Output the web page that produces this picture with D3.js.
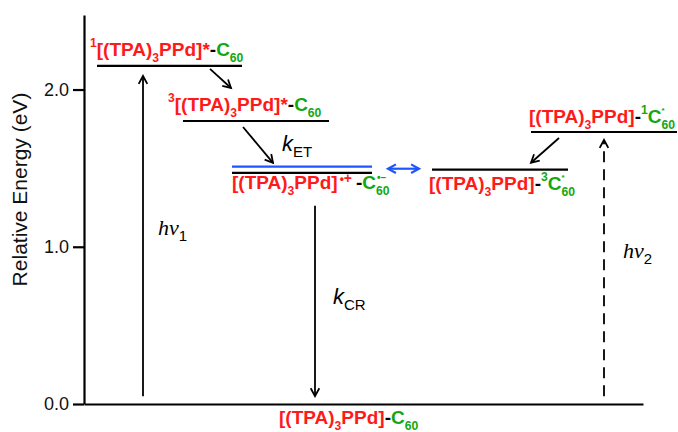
<!DOCTYPE html>
<html><head><meta charset="utf-8">
<script src="https://cdn.jsdelivr.net/npm/d3@7"></script>
<style>body{margin:0;background:#fff}</style>
</head><body>
<svg id="chart" width="678" height="432"></svg>
<script>
// Energy levels of the (TPA)3PPd–C60 dyad (eV)
const stateIds  = ["S1", "T1", "CS", "PPdT", "C60T", "C60S", "GS"];
const energies  = [2.15, 1.80, 1.47, 1.51, 1.49, 1.73, 0.0];
const yTicks      = [0.0, 1.0, 2.0];
const yTickLabels = ["0.0", "1.0", "2.0"];
const yTitle = "Relative Energy (eV)";

const E = Object.fromEntries(stateIds.map((s, i) => [s, energies[i]]));

const RED = "#ff1a1a", GREEN = "#12a812", BLUE = "#1f55ff", BLACK = "#000";
const SANS = "'Liberation Sans', Arial, sans-serif";
const SERIF = "'Liberation Serif', 'Times New Roman', serif";

const svg = d3.select("#chart");
const y = d3.scaleLinear().domain([0, 2.474]).range([404, 15]);
const x = d3.scaleLinear().domain([0, 1]).range([84, 643]);

// ---- axes ----
const gy = svg.append("g").attr("transform", "translate(84,0)")
  .call(d3.axisLeft(y).tickValues(yTicks).tickFormat((d, i) => yTickLabels[i])
        .tickSize(11).tickSizeOuter(0).tickPadding(4));
gy.select(".domain").attr("stroke", BLACK).attr("stroke-width", 2.2);
gy.selectAll(".tick line").attr("stroke", BLACK).attr("stroke-width", 2.2);
gy.selectAll(".tick text").attr("font-family", SANS).attr("font-size", 18).attr("fill", "#111");

const gx = svg.append("g").attr("transform", `translate(0,${y(0)})`)
  .call(d3.axisBottom(x).ticks(0).tickSizeOuter(0));
gx.select(".domain").attr("stroke", BLACK).attr("stroke-width", 2.2);

svg.append("text")
  .attr("transform", `translate(27,${(y(0) + y(2.474)) / 2 - 20}) rotate(-90)`)
  .attr("text-anchor", "middle")
  .attr("font-family", SANS).attr("font-size", 21).attr("fill", "#111")
  .text(yTitle);

// ---- level lines (horizontal extents in px) ----
const spans = {
  S1: [97, 242], T1: [183, 329], CS: [232, 372], PPdT: [232, 372],
  C60T: [432, 568], C60S: [531, 677]
};
const levelColor = { PPdT: BLUE };
Object.keys(spans).forEach(id => {
  svg.append("line")
    .attr("x1", spans[id][0]).attr("x2", spans[id][1])
    .attr("y1", y(E[id])).attr("y2", y(E[id]))
    .attr("stroke", levelColor[id] || BLACK).attr("stroke-width", 2.2);
});

// ---- arrows ----
function head(x1, y1, x2, y2, color, w) {
  const a = Math.atan2(y2 - y1, x2 - x1), L = 9, t = 0.5;
  svg.append("path")
    .attr("d", `M${x2 - L * Math.cos(a - t)},${y2 - L * Math.sin(a - t)}L${x2},${y2}L${x2 - L * Math.cos(a + t)},${y2 - L * Math.sin(a + t)}`)
    .attr("fill", "none").attr("stroke", color).attr("stroke-width", w)
    .attr("stroke-linejoin", "miter");
}
function arrow(x1, y1, x2, y2, o = {}) {
  const color = o.color || BLACK, w = o.width || 1.8;
  svg.append("line").attr("x1", x1).attr("y1", y1).attr("x2", x2).attr("y2", y2)
    .attr("stroke", color).attr("stroke-width", w)
    .attr("stroke-dasharray", o.dash || null);
  head(x1, y1, x2, y2, color, w);
  if (o.both) head(x2, y2, x1, y1, color, w);
}
// excitations
arrow(143, y(0.05), 143, y(E.S1) + 10);
arrow(604, y(0.05), 604, y(E.C60S) + 8, { dash: "11,7" });
// charge recombination
arrow(315, y(E.CS) + 33, 315, y(0.05));
// intersystem crossing / electron transfer
arrow(210, y(E.S1) + 3, 231, y(E.T1) - 33);
arrow(243, y(E.T1) + 6, 273, y(E.CS) - 10);
arrow(559, y(E.C60S) + 6, 531, y(E.C60T) - 7);
// equilibrium between CS and 3C60*
arrow(388, y(E.C60T) - 1, 419, y(E.C60T) - 1, { color: BLUE, width: 2.2, both: true });

// ---- rich text labels ----
function rich(x0, base, segs, size, opts = {}) {
  let cx = x0;
  segs.forEach(s => {
    const small = s.k === "sub" || s.k === "sup";
    const fs = s.fs || (small ? size * 0.64 : size);
    const dy = s.k === "sub" ? size * 0.3 : s.k === "sup" ? -size * 0.45 : 0;
    const t = svg.append("text")
      .attr("x", cx + (s.dx || 0)).attr("y", base + dy + (s.dy || 0))
      .attr("font-family", s.font || opts.font || SANS)
      .attr("font-size", fs)
      .attr("font-weight", opts.weight || "bold")
      .attr("font-style", s.italic ? "italic" : "normal")
      .attr("fill", s.c || BLACK)
      .text(s.t);
    if (!s.stack) cx += t.node().getComputedTextLength() + (s.dx || 0);
  });
}
const FS = 19;
const core = [
  { t: "[(TPA)", c: RED }, { t: "3", c: RED, k: "sub" }, { t: "PPd]", c: RED }
];
// 1[(TPA)3PPd]*-C60
rich(90, 56, [{ t: "1", c: RED, k: "sup" }, ...core, { t: "*", c: RED },
  { t: "-", c: BLACK }, { t: "C", c: GREEN }, { t: "60", c: GREEN, k: "sub" }], FS);
// 3[(TPA)3PPd]*-C60
rich(168, 111, [{ t: "3", c: RED, k: "sup" }, ...core, { t: "*", c: RED },
  { t: "-", c: BLACK }, { t: "C", c: GREEN }, { t: "60", c: GREEN, k: "sub" }], FS);
// [(TPA)3PPd]•+-C60•−
rich(232, 189, [...core, { t: "•", c: RED, k: "sup", dx: 2, fs: 12, dy: 3 }, { t: "+", c: RED, k: "sup", fs: 14, dy: 3 },
  { t: "-", c: BLACK, dx: 4 },
  { t: "C", c: GREEN }, { t: "•–", c: GREEN, k: "sup", stack: true, fs: 10, dx: 1, dy: 1 },
  { t: "60", c: GREEN, k: "sub" }], FS);
// [(TPA)3PPd]-3C*60
rich(429, 190, [...core, { t: "-", c: BLACK }, { t: "3", c: GREEN, k: "sup" },
  { t: "C", c: GREEN }, { t: "*", c: GREEN, k: "sup", stack: true, fs: 8, dy: -1 },
  { t: "60", c: GREEN, k: "sub" }], FS);
// [(TPA)3PPd]-1C*60
rich(529, 123, [...core, { t: "-", c: BLACK }, { t: "1", c: GREEN, k: "sup" },
  { t: "C", c: GREEN }, { t: "*", c: GREEN, k: "sup", stack: true, fs: 8, dy: -1 },
  { t: "60", c: GREEN, k: "sub" }], FS);
// ground state
rich(279, 424, [...core, { t: "-", c: BLACK }, { t: "C", c: GREEN },
  { t: "60", c: GREEN, k: "sub" }], FS);

// rate constants and photon labels
rich(282, 151, [{ t: "k", italic: true }, { t: "ET", k: "sub", fs: 15, dy: -1 }], 22, { weight: "normal" });
rich(333, 304, [{ t: "k", italic: true }, { t: "CR", k: "sub", fs: 15, dy: -1 }], 22, { weight: "normal" });
rich(158, 235, [{ t: "hν", italic: true, font: SERIF }, { t: "1", k: "sub", fs: 15, dy: -1 }], 22, { weight: "normal" });
rich(623, 258, [{ t: "hν", italic: true, font: SERIF }, { t: "2", k: "sub", fs: 15, dy: -1 }], 22, { weight: "normal" });
</script>
</body></html>
